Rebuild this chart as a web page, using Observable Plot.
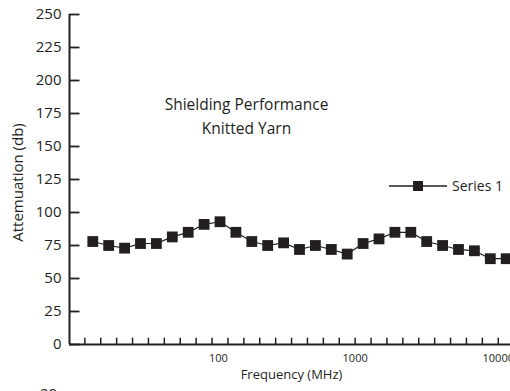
<!DOCTYPE html>
<html>
<head>
<meta charset="utf-8">
<script src="https://cdn.jsdelivr.net/npm/d3@7"></script>
<script src="https://cdn.jsdelivr.net/npm/@observablehq/plot@0.6"></script>
<style>
  html, body { margin: 0; padding: 0; background: #fff; overflow: hidden; width: 510px; height: 391px; }
  #wrap { position: relative; width: 510px; height: 391px; font-family: "Open Sans", sans-serif; color: #231f20; }
  #legend { position: absolute; left: 389px; top: 176px; display: flex; align-items: center; font-size: 14px; }
  #legend span { margin-left: 5px; }
  #cut { position: absolute; left: 40px; top: 383px; font-size: 15px; }
</style>
</head>
<body>
<div id="wrap">
  <div id="chart"></div>
  <div id="legend"></div>
  <div id="cut">20</div>
</div>
<script>
const seriesName = "Series 1";
const titleLines = ["Shielding Performance", "Knitted Yarn"];
const xTitle = "Frequency (MHz)";
const yTitle = "Attemuation (db)";
// attenuation per frequency step (27 evenly spaced steps)
const attenuation = [78, 75, 73, 76.5, 76.5, 81.5, 85, 91, 93, 85, 78, 75, 77, 72, 75, 72, 68.5, 76.5, 80, 85, 85, 78, 75, 72, 71, 65, 65];
const xTickLabels = ["100", "1000", "10000"];
const xTickAt = [7.9, 16.5, 25.5];
const yTicks = [0, 25, 50, 75, 100, 125, 150, 175, 200, 225, 250];

const ink = "#231f20";
const data = attenuation.map((v, i) => ({i, v}));
const xMin = -1.465, xMax = 26.27;
const minorTicks = d3.range(-0.5, 27, 1);
const labelMap = new Map(xTickAt.map((p, k) => [p, xTickLabels[k]]));

const plot = Plot.plot({
  width: 510,
  height: 391,
  marginLeft: 69,
  marginRight: 0,
  marginTop: 14,
  marginBottom: 47,
  style: {fontFamily: "Open Sans, sans-serif", color: ink, background: "transparent", overflow: "hidden"},
  x: {type: "linear", domain: [xMin, xMax]},
  y: {domain: [0, 250]},
  marks: [
    Plot.axisX(xTickAt, {tickSize: 0, tickPadding: 10, fontSize: 11, tickFormat: d => labelMap.get(d), label: null}),
    Plot.axisY(yTicks, {tickSize: 0, tickPadding: 8, fontSize: 15, label: null}),
    // inward tick marks
    Plot.ruleY(yTicks, {y: d => d, x1: xMin, x2: xMin + 0.66, stroke: ink, strokeWidth: 1.8}),
    Plot.ruleX(minorTicks, {x: d => d, y1: 0, y2: 4.8, stroke: ink, strokeWidth: 1.5}),
    // axis lines
    Plot.ruleX([xMin], {y1: 0, y2: 250, stroke: ink, strokeWidth: 2}),
    Plot.ruleY([0], {x1: xMin, x2: xMax, stroke: ink, strokeWidth: 2}),
    // series
    Plot.line(data, {x: "i", y: "v", stroke: ink, strokeWidth: 1.2}),
    Plot.dot(data, {x: "i", y: "v", symbol: "square", r: 6.1, fill: ink, stroke: "none"}),
    // titles
    Plot.text([titleLines.join("\n")], {frameAnchor: "top-left", dx: 177, dy: 100, textAnchor: "middle", lineAnchor: "middle", lineHeight: 1.5, fontSize: 15.5, fill: ink}),
    Plot.text([xTitle], {frameAnchor: "bottom-left", dx: 222, dy: 34, textAnchor: "middle", fontSize: 13, fill: ink}),
    Plot.text([yTitle], {frameAnchor: "left", dx: -51, dy: 3, rotate: -90, textAnchor: "middle", fontSize: 15, fill: ink})
  ]
});
document.getElementById("chart").appendChild(plot);

const lg = document.getElementById("legend");
lg.innerHTML = `<svg width="58" height="18"><line x1="0" y1="9" x2="58" y2="9" stroke="${ink}" stroke-width="1.4"/><rect x="24" y="4" width="10" height="10" fill="${ink}"/></svg><span>${seriesName}</span>`;
</script>
</body>
</html>
